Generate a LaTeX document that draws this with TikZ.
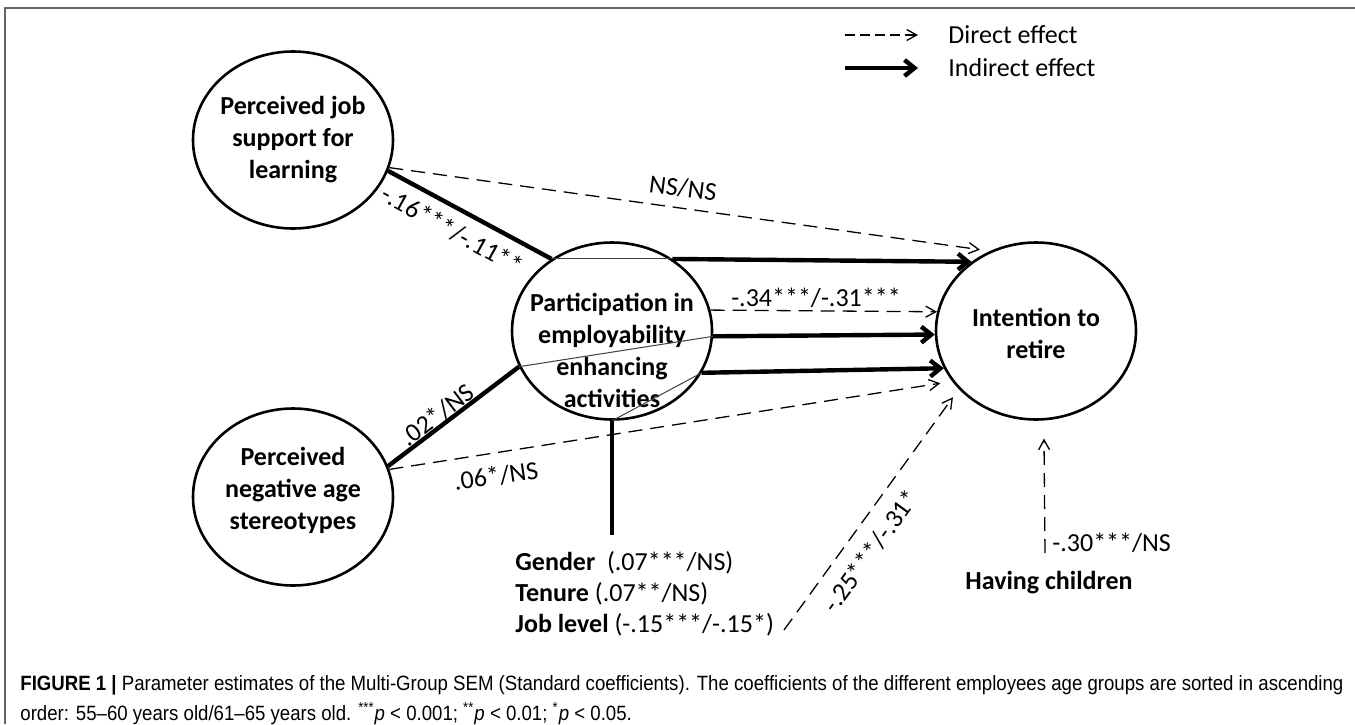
\documentclass[tikz,border=0pt]{standalone}
\usepackage{fontspec}
\usepackage{graphicx}
\setmainfont{Carlito}
\newfontfamily\capfont[FakeStretch=0.9]{Liberation Sans}
\usetikzlibrary{arrows.meta,shapes.geometric}
\begin{document}
\begin{tikzpicture}[x=0.5pt,y=-0.5pt,
  latent/.style={draw, ellipse, line width=1.3pt, minimum width=100pt, minimum height=88.5pt, inner sep=0pt},
  lattext/.style={font=\bfseries\fontsize{13}{16}\selectfont, align=center, inner sep=0pt},
  lbl/.style={font=\fontsize{13}{16}\selectfont, inner sep=0pt},
  direct/.style={line width=0.65pt, dash pattern=on 7pt off 4pt, -{Straight Barb[length=5pt,width=5.5pt]}},
  indirect/.style={line width=2.2pt, -{Straight Barb[length=5pt,width=8pt]}},
  pathline/.style={line width=2.2pt},
  thinline/.style={line width=0.5pt, black!75}]
\useasboundingbox (0,0) rectangle (1355,724);
\fill[white] (0,0) rectangle (1355,724);
\draw[black!60, line width=0.8pt] (5,724) -- (5,8) -- (1355,8);

% legend
\coordinate (la1) at (845,35); \coordinate (la2) at (918,35);
\coordinate (lb1) at (845,68); \coordinate (lb2) at (918,68);
\draw[direct, dash pattern=on 5pt off 2.5pt] (la1) -- (la2);
\node[lbl, anchor=west] (lt1) at (948,35) {Direct effect};
\draw[indirect] (lb1) -- (lb2);
\node[lbl, anchor=west] (lt2) at (948,68) {Indirect effect};

% latent variables
\node[latent] (sup) at (293,140) {};
\node[lattext] (supT) at (293,140) {Perceived job\\support for\\learning};
\node[latent] (part) at (612,331) {};
\node[lattext] (partT) at (612,350) {Participation in\\employability\\enhancing\\activities};
\node[latent] (neg) at (293,497) {};
\node[lattext] (negT) at (293,490) {Perceived\\negative age\\stereotypes};
\node[latent] (ret) at (1036,331) {};
\node[lattext] (retT) at (1036,333) {Intention to\\retire};

% controls
\node[lbl, anchor=base west] (gen) at (515,570) {\textbf{Gender}\ \ (.07***/NS)};
\node[lbl, anchor=base west] (ten) at (515,601) {\textbf{Tenure} (.07**/NS)};
\node[lbl, anchor=base west] (job) at (515,632) {\textbf{Job level} (-.15***/-.15*)};
\node[lattext] (hcT) at (1049,583) {Having children};
\coordinate (ctl) at (612,535);
\coordinate (jl) at (784,630);
\coordinate (hc) at (1045,553);

% paths
\draw[pathline] (sup.-18) -- (part.130);
\draw[direct, shorten >=5pt] (sup.-16) -- (ret.120);
\draw[thinline] (part.130) -- (part.50);
\draw[indirect] (part.50) -- (ret.133);

\draw[pathline] (neg.18) -- (part.201.5);
\draw[direct, shorten >=6pt] (neg.16.6) -- (ret.211);
\draw[thinline] (part.201.5) -- (part.-3.4);
\draw[indirect] (part.-3.4) -- (ret.182.3);

\draw[direct] (part.12) -- (ret.169);
\draw[thinline] (part.south) -- (part.-25);
\draw[indirect] (part.-25) -- (ret.202);
\draw[pathline] (part.south) -- (ctl);

\draw[direct, shorten >=5pt] (jl) -- (ret.217);
\draw[direct, shorten >=9pt] (hc) -- (ret.-85);

% labels
\node[lbl, rotate=-7.3] (l1) at (683,188) {NS/NS};
\node[lbl, rotate=-28.8] (l2) at (452,230) {-.16***/-.11**};
\node[lbl, rotate=37.2] (l3) at (437,415) {.02*/NS};
\node[lbl, rotate=8.3] (l4) at (496,476) {.06*/NS};
\node[lbl] (l5) at (816,298) {-.34***/-.31***};
\node[lbl, rotate=54] (l6) at (871,551) {-.25***/-.31*};
\node[lbl, anchor=west] (l7) at (1052,543) {-.30***/NS};

% caption
\node[anchor=base west, inner sep=0pt] (cap) at (20,690) {\resizebox{661.5pt}{!}{\capfont\fontsize{9.6}{14}\selectfont\begin{tabular}[t]{@{}l@{}}\textbf{FIGURE 1 |} Parameter estimates of the Multi-Group SEM (Standard coefficients). The coefficients of the different employees age groups are sorted in ascending\\order: 55–60 years old/61–65 years old. \textsuperscript{***}\textit{p} < 0.001; \textsuperscript{**}\textit{p} < 0.01; \textsuperscript{*}\textit{p} < 0.05.\end{tabular}}};
\end{tikzpicture}
\end{document}
